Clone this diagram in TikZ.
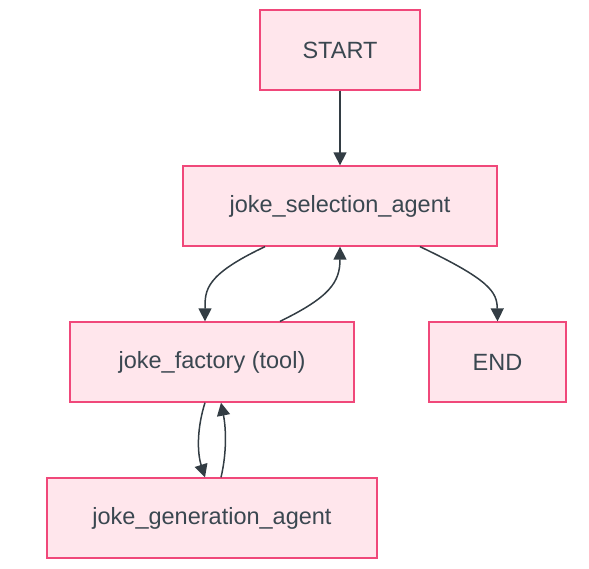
\documentclass[tikz,border=0pt]{standalone}
\usepackage{fontspec}
\setmainfont{Liberation Sans}
\usetikzlibrary{arrows.meta}

\definecolor{boxfill}{HTML}{FFE6EC}
\definecolor{boxline}{HTML}{F0487A}
\definecolor{txtgray}{HTML}{3A4750}
\definecolor{edgegray}{HTML}{333D44}

\tikzset{
  stepbox/.style={draw=boxline, fill=boxfill, line width=1.3pt, text=txtgray,
    font=\fontsize{23.5}{27}\selectfont, minimum height=80pt, inner sep=0pt},
  flow/.style={draw=edgegray, line width=1.5pt,
    -{Triangle[length=13pt,width=13pt]}}
}

\begin{document}
\begin{tikzpicture}[x=1pt,y=-1pt]

    \useasboundingbox (0,0) rectangle (589,568);

    % Nodes
    \node[stepbox, minimum width=160pt] (start) at (340,50) {START};
    \node[stepbox, minimum width=314pt] (sel) at (340,206) {joke\_selection\_agent};
    \node[stepbox, minimum width=284pt] (factory) at (212,362) {joke\_factory (tool)};
    \node[stepbox, minimum width=137pt] (end) at (497.5,362) {END};
    \node[stepbox, minimum width=330pt] (gen) at (212,518) {joke\_generation\_agent};

    % Edges
    \draw[flow] (start.south) -- (sel.north);
    \draw[flow] ([xshift=-75pt]sel.south) .. controls (205,275) and (205,290) .. ([xshift=-7pt]factory.north);
    \draw[flow] ([xshift=68pt]factory.north) .. controls (330,297) and (340,282) .. (sel.south);
    \draw[flow] ([xshift=80pt]sel.south) .. controls (490,280) and (497,292) .. (end.north);
    \draw[flow] ([xshift=-7pt]factory.south) .. controls (197,428) and (197,452) .. ([xshift=-7pt]gen.north);
    \draw[flow] ([xshift=9pt]gen.north) .. controls (227,452) and (226,428) .. ([xshift=9pt]factory.south);

\end{tikzpicture}
\end{document}
